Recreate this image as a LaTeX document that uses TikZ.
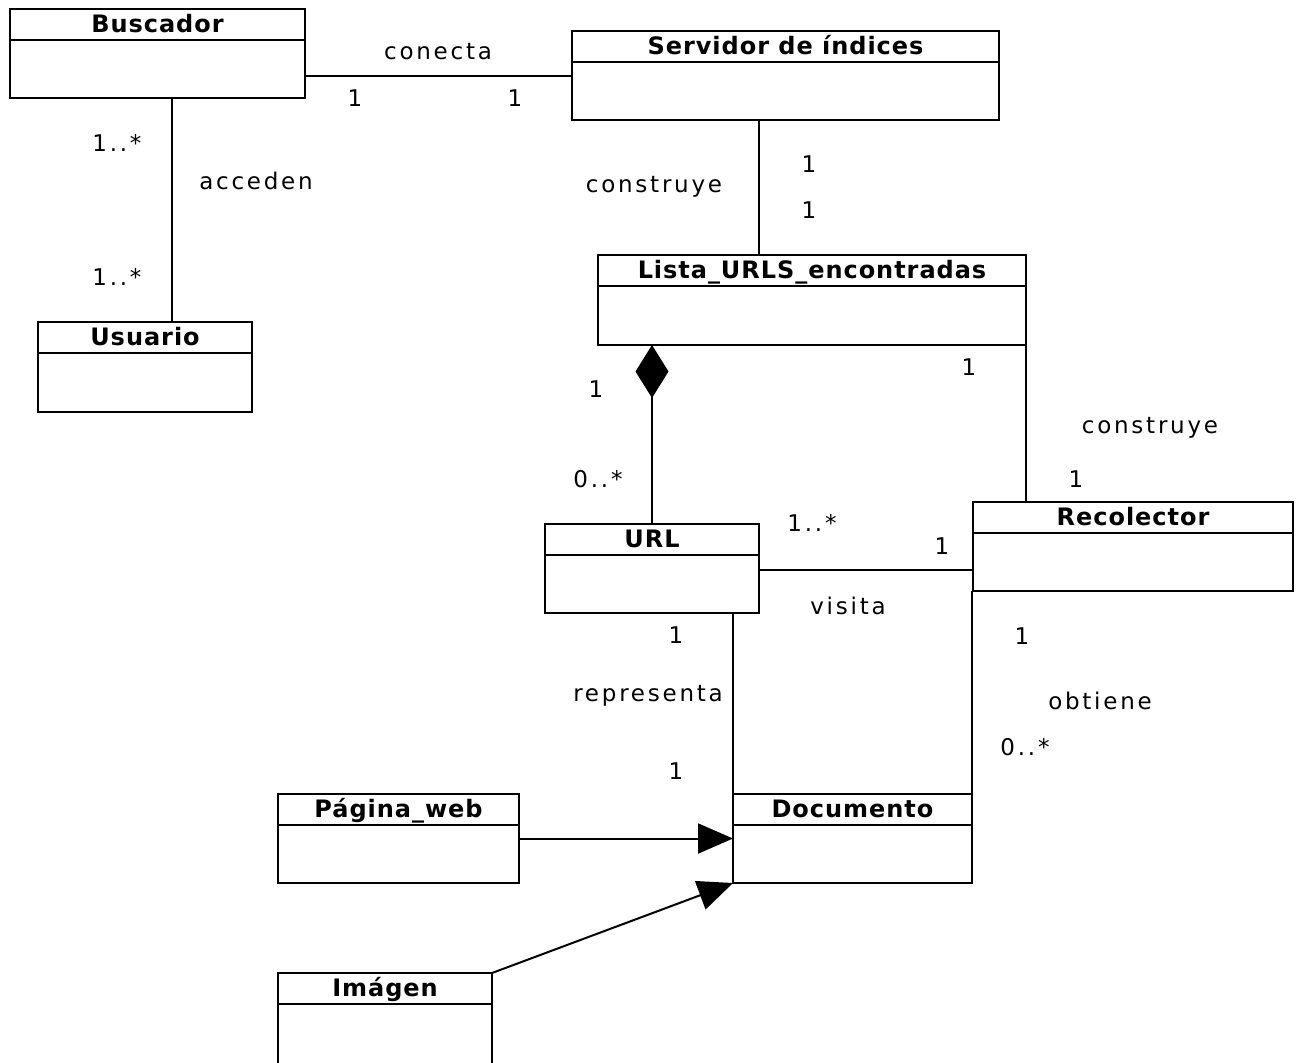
\documentclass[tikz,border=0pt]{standalone}
\usepackage{fontspec}
\setmainfont{DejaVu Sans}
\newfontfamily\lblfont{DejaVu Sans}[LetterSpace=12]
\newfontfamily\ttlfont{DejaVu Sans}[LetterSpace=4]
\usetikzlibrary{arrows.meta,calc}
\newcommand\umlbox[6]{%
  \node[cls, minimum width=#4*0.5pt, minimum height=#5*0.5pt] (#1) at (#2,#3) {};
  \draw[line width=1pt] ($(#1.north west)+(0,31)$) -- ($(#1.north east)+(0,31)$);
  \node[ttl] (#1-t) at ($(#1.north)+(0,16.5)$) {#6};
}
\begin{document}
\begin{tikzpicture}[x=0.5pt,y=-0.5pt,
  cls/.style={draw, line width=1pt, inner sep=0, outer sep=0, anchor=north west},
  ttl/.style={font=\ttlfont\bfseries\fontsize{12}{14}\selectfont, inner sep=0, text height=8.8pt, text depth=2pt},
  lbl/.style={font=\lblfont\fontsize{11.5}{13}\selectfont, inner sep=0},
  conn/.style={line width=1pt},
  gen/.style={conn, -{Triangle[length=17.5pt,width=15pt]}},
  comp/.style={conn, {Diamond[length=26.5pt,width=16.5pt]}-}
]
\fill[white] (0,0) rectangle (1296,1062);
\useasboundingbox (0,0) rectangle (1296,1062);

\umlbox{bus}{10}{9}{295}{89}{Buscador}
\umlbox{serv}{572}{31}{427}{89}{Servidor de índices}
\umlbox{usu}{38}{322}{214}{90}{Usuario}
\umlbox{lista}{598}{255}{428}{90}{Lista\_URLS\_encontradas}
\umlbox{url}{545}{524}{214}{89}{URL}
\umlbox{rec}{973}{502}{320}{89}{Recolector}
\umlbox{doc}{733}{794}{239}{89}{Documento}
\umlbox{pag}{278}{794}{241}{89}{Página\_web}
\umlbox{img}{278}{973}{214}{92}{Imágen}

% connectors
\draw[conn] (serv.west -| bus.east) -- (serv.west);
\draw[conn] ($(bus.south west)+(162,0)$) -- ($(usu.north west)+(134,0)$);
\draw[conn] ($(serv.south west)+(187,0)$) -- ($(lista.north west)+(161,0)$);
\draw[comp] ($(lista.south west)+(54,0)$) -- ($(url.north west)+(107,0)$);
\draw[conn] (lista.south east) -- ($(rec.north west)+(53,0)$);
\draw[conn] ($(url.east)+(0,1.5)$) -- ($(url.east -| rec.west)+(0,1.5)$);
\draw[conn] (doc.north west |- url.south) -- (doc.north west);
\draw[conn] (doc.north east |- rec.south) -- (doc.north east);
\draw[gen] (pag.east) -- (doc.west);
\draw[gen] (img.north east) -- (doc.south west);

% labels
\node[lbl] (l1) at (438,52) {conecta};
\node[lbl] (l2) at (355,98) {1};
\node[lbl] (l3) at (515,98) {1};
\node[lbl] (l4) at (117,143) {1..*};
\node[lbl] (l5) at (256,181) {acceden};
\node[lbl] (l6) at (117,277) {1..*};
\node[lbl] (l7) at (654,187) {construye};
\node[lbl] (l8) at (809,164) {1};
\node[lbl] (l9) at (809,210) {1};
\node[lbl] (l10) at (596,389) {1};
\node[lbl] (l11) at (598,479) {0..*};
\node[lbl] (l12) at (969,367) {1};
\node[lbl] (l13) at (1150,428) {construye};
\node[lbl] (l14) at (1076,479) {1};
\node[lbl] (l15) at (812,523) {1..*};
\node[lbl] (l16) at (942,546) {1};
\node[lbl] (l17) at (848,606) {visita};
\node[lbl] (l18) at (676,635) {1};
\node[lbl] (l19) at (648,696) {representa};
\node[lbl] (l20) at (676,771) {1};
\node[lbl] (l21) at (1022,636) {1};
\node[lbl] (l22) at (1100,701) {obtiene};
\node[lbl] (l23) at (1025,747) {0..*};
\end{tikzpicture}
\end{document}
